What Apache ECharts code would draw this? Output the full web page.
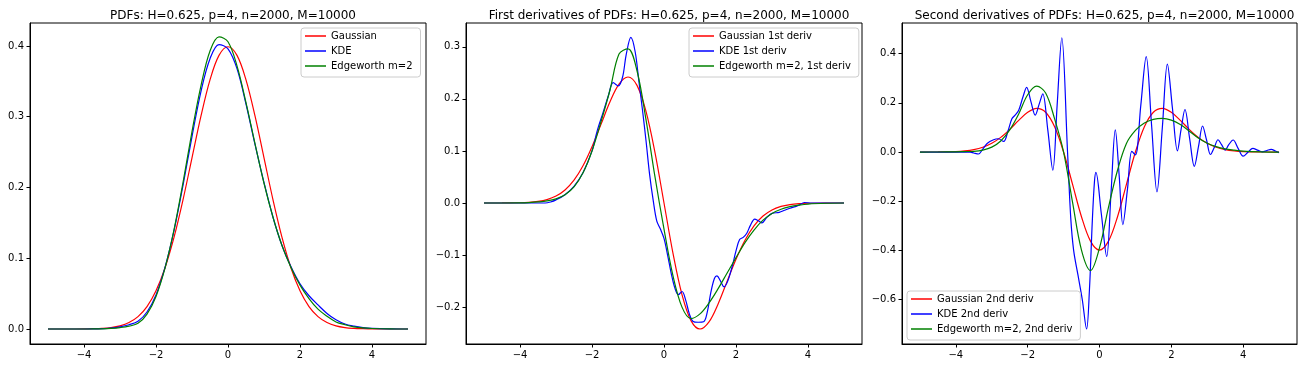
<!DOCTYPE html>
<html>
<head>
<meta charset="utf-8">
<title>PDFs and derivatives</title>
<script src="https://cdn.jsdelivr.net/npm/echarts@6/dist/echarts.min.js"></script>
<style>
  html, body { margin: 0; padding: 0; background: #fff; }
  #chart { width: 1304px; height: 368px; }
</style>
</head>
<body>
<div id="chart"></div>
<script>
// shared x grid for the Gaussian / Edgeworth curves
const xGrid = [-5, -4.5, -4, -3.75, -3.5, -3.25, -3, -2.75, -2.5, -2.25, -2, -1.75, -1.5, -1.25, -1, -0.75, -0.5, -0.25,
  0, 0.25, 0.5, 0.75, 1, 1.25, 1.5, 1.75, 2, 2.25, 2.5, 2.75, 3, 3.25, 3.5, 3.75, 4, 4.5, 5];

// panel 1: PDFs
const gaussPdf = [0, 0, 0.0001, 0.0004, 0.0009, 0.002, 0.0044, 0.0091, 0.0175, 0.0317, 0.054, 0.0863, 0.1295, 0.1826, 0.242, 0.3011, 0.3521, 0.3867,
  0.3989, 0.3867, 0.3521, 0.3011, 0.242, 0.1826, 0.1295, 0.0863, 0.054, 0.0317, 0.0175, 0.0091, 0.0044, 0.002, 0.0009, 0.0004, 0.0001, 0, 0];
const kdePdf = [0, 0, 0, 0.0001, 0.0005, 0.0012, 0.003, 0.006, 0.011, 0.024, 0.048, 0.087, 0.139, 0.203, 0.272, 0.336, 0.382, 0.402,
  0.396, 0.368, 0.318, 0.261, 0.207, 0.158, 0.118, 0.088, 0.064, 0.047, 0.034, 0.022, 0.013, 0.007, 0.004, 0.002, 0.001, 0.0002, 0];
const edgePdf = [0, 0, 0, 0.0001, 0.0003, 0.0009, 0.002, 0.004, 0.008, 0.021, 0.046, 0.086, 0.14, 0.207, 0.279, 0.344, 0.393, 0.413,
  0.406, 0.372, 0.32, 0.262, 0.206, 0.158, 0.118, 0.087, 0.062, 0.043, 0.028, 0.018, 0.01, 0.006, 0.003, 0.0015, 0.0007, 0.0001, 0];

// panel 2: first derivatives
const gaussD1 = [0, 0.0001, 0.0005, 0.0013, 0.0031, 0.0066, 0.0133, 0.025, 0.0438, 0.0714, 0.108, 0.151, 0.1943, 0.2283, 0.242, 0.2259, 0.176, 0.0967,
  0, -0.0967, -0.176, -0.2259, -0.242, -0.2283, -0.1943, -0.151, -0.108, -0.0714, -0.0438, -0.025, -0.0133, -0.0066, -0.0031, -0.0013, -0.0005, -0.0001, 0];
const edgeD1 = [0, 0, 0.0002, 0.0008, 0.002, 0.004, 0.008, 0.016, 0.031, 0.058, 0.1, 0.156, 0.217, 0.286, 0.296, 0.254, 0.16, 0.05,
  -0.05, -0.14, -0.2, -0.222, -0.213, -0.192, -0.165, -0.135, -0.105, -0.076, -0.052, -0.033, -0.02, -0.012, -0.007, -0.004, -0.002, -0.0005, 0];
const xKdeD1 = [-5, -3.3, -3.15, -3, -2.75, -2.5, -2.25, -2, -1.85, -1.7, -1.55, -1.41, -1.27, -1.15, -1.05, -0.92, -0.8, -0.7, -0.6, -0.5, -0.4, -0.3,
  -0.2, -0.1, 0, 0.1, 0.2, 0.3, 0.4, 0.5, 0.6, 0.7, 0.8, 0.95, 1.1, 1.2, 1.3, 1.4, 1.47, 1.57, 1.67, 1.77, 1.9, 2, 2.1, 2.2, 2.3, 2.4, 2.52, 2.62,
  2.72, 2.85, 3, 3.2, 3.35, 3.5, 3.65, 3.75, 3.9, 4.1, 5];
const kdeD1 = [0, 0, 0.002, 0.006, 0.016, 0.032, 0.058, 0.1, 0.14, 0.172, 0.205, 0.231, 0.225, 0.242, 0.285, 0.318, 0.29, 0.235, 0.18, 0.12, 0.055, 0.005,
  -0.035, -0.05, -0.068, -0.1, -0.135, -0.163, -0.176, -0.17, -0.186, -0.212, -0.227, -0.229, -0.228, -0.21, -0.172, -0.145, -0.14, -0.15, -0.161, -0.15, -0.12, -0.092, -0.07, -0.066, -0.058, -0.043, -0.031, -0.034,
  -0.038, -0.028, -0.02, -0.018, -0.014, -0.01, -0.007, -0.004, 0.001, 0, 0];

// panel 3: second derivatives
const gaussD2 = [0, 0.0003, 0.002, 0.0046, 0.0098, 0.0194, 0.0355, 0.0597, 0.092, 0.1289, 0.162, 0.178, 0.1619, 0.1027, 0, -0.1317, -0.2641, -0.3625,
  -0.3989, -0.3625, -0.2641, -0.1317, 0, 0.1027, 0.1619, 0.178, 0.162, 0.1289, 0.092, 0.0597, 0.0355, 0.0194, 0.0098, 0.0046, 0.002, 0.0003, 0];
const edgeD2 = [0, 0.0002, 0.001, 0.002, 0.003, 0.008, 0.02, 0.045, 0.09, 0.155, 0.233, 0.268, 0.24, 0.135, 0, -0.205, -0.4, -0.482,
  -0.39, -0.225, -0.075, 0.035, 0.088, 0.118, 0.133, 0.137, 0.13, 0.112, 0.085, 0.057, 0.036, 0.022, 0.013, 0.008, 0.004, 0.001, 0];
const xKdeD2 = [-5, -4, -3.6, -3.5, -3.37, -3.25, -3.13, -2.95, -2.82, -2.67, -2.55, -2.44, -2.35, -2.25, -2.13, -2.03, -1.91, -1.79, -1.68, -1.58,
  -1.44, -1.3, -1.18, -1.05, -0.89, -0.8, -0.72, -0.6, -0.48, -0.36, -0.28, -0.2, -0.14, -0.1, 0.05, 0.2, 0.32, 0.44, 0.55, 0.65, 0.78, 0.9, 1,
  1.15, 1.3, 1.45, 1.6, 1.75, 1.89, 2.03, 2.17, 2.27, 2.38, 2.51, 2.64, 2.76, 2.87, 2.98, 3.09, 3.2, 3.3, 3.4, 3.5, 3.6, 3.72, 3.86, 4,
  4.14, 4.27, 4.4, 4.53, 4.66, 4.78, 4.9, 5];
const kdeD2 = [0, 0, 0, -0.004, -0.008, 0.012, 0.035, 0.05, 0.054, 0.043, 0.085, 0.135, 0.15, 0.17, 0.225, 0.263, 0.205, 0.15, 0.195, 0.237,
  0.09, -0.074, 0.19, 0.465, 0, -0.27, -0.4, -0.5, -0.6, -0.72, -0.56, -0.28, -0.12, -0.083, -0.25, -0.425, -0.17, 0.09, -0.1, -0.295, -0.15, 0.003, -0.012,
  0.19, 0.388, 0.11, -0.162, 0.1, 0.358, 0.18, 0.005, 0.09, 0.173, 0.055, -0.058, 0.025, 0.106, 0.05, -0.01, 0.02, 0.05, 0.03, 0.008, 0.03, 0.049, 0.015, -0.017,
  0, 0.015, 0.008, 0.001, 0.006, 0.011, 0.004, -0.003];

const xTicks = [-4, -2, 0, 2, 4];
const yTicks1 = [0, 0.1, 0.2, 0.3, 0.4];
const yTicks2 = [-0.2, -0.1, 0, 0.1, 0.2, 0.3];
const yTicks3 = [-0.6, -0.4, -0.2, 0, 0.2, 0.4];

const titles = [
  'PDFs: H=0.625, p=4, n=2000, M=10000',
  'First derivatives of PDFs: H=0.625, p=4, n=2000, M=10000',
  'Second derivatives of PDFs: H=0.625, p=4, n=2000, M=10000'
];

const FONT = 'DejaVu Sans';
const pair = (xs, ys) => xs.map((x, i) => [x, ys[i]]);
const fmt = (d) => (v) => (v < 0 ? '\u2212' : '') + Math.abs(v).toFixed(d);

const grids = [
  { left: 30, top: 23, width: 396, height: 321 },
  { left: 466, top: 23, width: 396, height: 321 },
  { left: 902, top: 23, width: 395, height: 321 }
];

function xAxisFor(i) {
  return {
    type: 'value', gridIndex: i, min: -5.5, max: 5.5,
    axisLine: { show: true, onZero: false, lineStyle: { color: '#000', width: 1 } },
    axisTick: { show: true, length: 3.5, customValues: xTicks, lineStyle: { color: '#000' } },
    axisLabel: { customValues: xTicks, formatter: fmt(0), fontFamily: FONT, fontSize: 10, color: '#000', margin: 6 },
    splitLine: { show: false }
  };
}
function yAxisFor(i, min, max, ticks) {
  return {
    type: 'value', gridIndex: i, min: min, max: max,
    axisLine: { show: true, onZero: false, lineStyle: { color: '#000', width: 1 } },
    axisTick: { show: true, length: 3.5, customValues: ticks, lineStyle: { color: '#000' } },
    axisLabel: { customValues: ticks, formatter: fmt(1), fontFamily: FONT, fontSize: 10, color: '#000', margin: 6 },
    splitLine: { show: false }
  };
}
function line(name, data, color, i) {
  return {
    name: name, type: 'line', xAxisIndex: i, yAxisIndex: i, data: data,
    symbol: 'none', showSymbol: false, smooth: 0.35, animation: false,
    lineStyle: { color: color, width: 1.2 }, itemStyle: { color: color }
  };
}
function legendAt(left, top, names) {
  return {
    left: left, top: top, orient: 'vertical', data: names, selectedMode: false,
    icon: 'rect', itemWidth: 21, itemHeight: 1.5, itemGap: 1,
    padding: [1, 8, 4, 4], backgroundColor: 'rgba(255,255,255,0.8)',
    borderColor: '#cccccc', borderWidth: 1, borderRadius: 3,
    textStyle: { fontFamily: FONT, fontSize: 10, color: '#000', lineHeight: 14 }
  };
}

const chart = echarts.init(document.getElementById('chart'), null, { renderer: 'canvas' });
chart.setOption({
  animation: false,
  backgroundColor: '#fff',
  title: titles.map((t, i) => ({
    text: t, left: grids[i].left + grids[i].width / 2, top: 5, textAlign: 'center',
    textStyle: { fontFamily: FONT, fontSize: 12, fontWeight: 'normal', color: '#000' }
  })),
  grid: grids.map(g => Object.assign({ show: true, borderColor: '#000', borderWidth: 1 }, g)),
  xAxis: [xAxisFor(0), xAxisFor(1), xAxisFor(2)],
  yAxis: [
    yAxisFor(0, -0.0212, 0.4325, yTicks1),
    yAxisFor(1, -0.2708, 0.3457, yTicks2),
    yAxisFor(2, -0.781, 0.525, yTicks3)
  ],
  legend: [
    legendAt(301, 28, ['Gaussian', 'KDE', 'Edgeworth m=2']),
    legendAt(689, 28, ['Gaussian 1st deriv', 'KDE 1st deriv', 'Edgeworth m=2, 1st deriv']),
    legendAt(907, 291, ['Gaussian 2nd deriv', 'KDE 2nd deriv', 'Edgeworth m=2, 2nd deriv'])
  ],
  series: [
    line('Gaussian', pair(xGrid, gaussPdf), '#ff0000', 0),
    line('KDE', pair(xGrid, kdePdf), '#0000ff', 0),
    line('Edgeworth m=2', pair(xGrid, edgePdf), '#008000', 0),
    line('Gaussian 1st deriv', pair(xGrid, gaussD1), '#ff0000', 1),
    line('KDE 1st deriv', pair(xKdeD1, kdeD1), '#0000ff', 1),
    line('Edgeworth m=2, 1st deriv', pair(xGrid, edgeD1), '#008000', 1),
    line('Gaussian 2nd deriv', pair(xGrid, gaussD2), '#ff0000', 2),
    line('KDE 2nd deriv', pair(xKdeD2, kdeD2), '#0000ff', 2),
    line('Edgeworth m=2, 2nd deriv', pair(xGrid, edgeD2), '#008000', 2)
  ]
});
</script>
</body>
</html>
